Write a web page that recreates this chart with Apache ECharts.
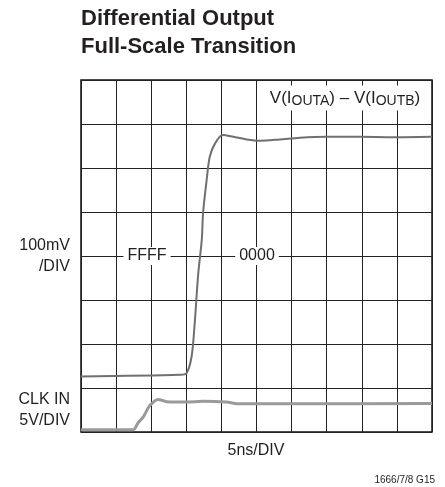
<!DOCTYPE html>
<html>
<head>
<meta charset="utf-8">
<script src="https://cdn.jsdelivr.net/npm/echarts@6/dist/echarts.min.js"></script>
<style>
  html, body { margin: 0; padding: 0; background: #fff; }
  #chart { width: 445px; height: 487px; }
</style>
</head>
<body>
<div id="chart"></div>
<script>
  // time in ns (5ns/div), level in divisions from bottom of screen
  var outTime = [0, 14.1, 15.0, 15.75, 16.2, 16.7, 17.2, 17.4, 17.9, 18.35, 19.1, 20.2, 21.7, 23.6, 25.5, 28.3, 31.2, 35.0, 39.7, 44.4, 50];
  var outLevel = [1.26, 1.30, 1.33, 1.71, 2.48, 3.6, 4.36, 5.0, 5.73, 6.26, 6.56, 6.75, 6.71, 6.65, 6.62, 6.65, 6.69, 6.71, 6.71, 6.70, 6.71];
  var clkTime = [0, 7.4, 8.1, 8.9, 9.8, 11.0, 12.2, 15.0, 17.4, 20.7, 22.6, 30.2, 50];
  var clkLevel = [0.05, 0.05, 0.2, 0.35, 0.6, 0.74, 0.69, 0.68, 0.7, 0.68, 0.64, 0.64, 0.65];

  function pairs(xs, ys) {
    var out = [];
    for (var i = 0; i < xs.length; i++) out.push([xs[i], ys[i]]);
    return out;
  }

  var font = '"Liberation Sans Narrow", "Liberation Sans", Arial, sans-serif';
  var ink = '#231f20';

  function label(x, y, text, size, align) {
    return {
      type: 'text', z: 100,
      style: { x: x, y: y, text: text, font: size + 'px ' + font, fill: ink, align: align || 'left', verticalAlign: 'middle' }
    };
  }

  var myChart = echarts.init(document.getElementById('chart'));
  myChart.setOption({
    animation: false,
    backgroundColor: '#fff',
    grid: {
      left: 81, right: 13, top: 80, bottom: 55,
      show: true, borderColor: '#111', borderWidth: 1.5
    },
    xAxis: {
      type: 'value', min: 0, max: 50, interval: 5,
      axisLine: { show: false }, axisTick: { show: false }, axisLabel: { show: false },
      splitLine: { show: true, lineStyle: { color: '#222', width: 1 } }
    },
    yAxis: {
      type: 'value', min: 0, max: 8, interval: 1,
      axisLine: { show: false }, axisTick: { show: false }, axisLabel: { show: false },
      splitLine: { show: true, lineStyle: { color: '#222', width: 1 } }
    },
    series: [
      {
        name: 'V(IOUTA) - V(IOUTB)',
        type: 'line', showSymbol: false, smooth: 0.3,
        lineStyle: { color: '#707070', width: 2 },
        data: pairs(outTime, outLevel)
      },
      {
        name: 'CLK IN',
        type: 'line', showSymbol: false, smooth: 0.3,
        lineStyle: { color: '#9a9a9a', width: 3 },
        data: pairs(clkTime, clkLevel)
      }
    ],
    graphic: [
      label(81, 19, 'Differential Output', 'bold 22', 'left'),
      label(81, 47, 'Full-Scale Transition', 'bold 22', 'left'),
      label(70, 246, '100mV', 16, 'right'),
      label(70, 267, '/DIV', 16, 'right'),
      label(70, 400, 'CLK IN', 16, 'right'),
      label(70, 421, '5V/DIV', 16, 'right'),
      label(256, 451, '5ns/DIV', 16, 'center'),
      label(435, 480, '1666/7/8 G15', 10, 'right'),
      {
        type: 'text', z: 100,
        style: { x: 147, y: 256, text: 'FFFF', font: '16px ' + font, fill: ink, align: 'center', verticalAlign: 'middle', backgroundColor: '#fff', padding: [1, 4] }
      },
      {
        type: 'text', z: 100,
        style: { x: 257, y: 256, text: '0000', font: '16px ' + font, fill: ink, align: 'center', verticalAlign: 'middle', backgroundColor: '#fff', padding: [1, 4] }
      },
      {
        type: 'text', z: 100,
        style: {
          x: 345, y: 98, text: 'V(I{s|OUTA}) – V(I{s|OUTB})',
          font: '17px ' + font, fill: ink, align: 'center', verticalAlign: 'middle',
          backgroundColor: '#fff', padding: [2, 2],
          rich: { s: { font: '14px ' + font, fill: ink, padding: [7, 0, 0, 0] } }
        }
      }
    ]
  });
</script>
</body>
</html>
